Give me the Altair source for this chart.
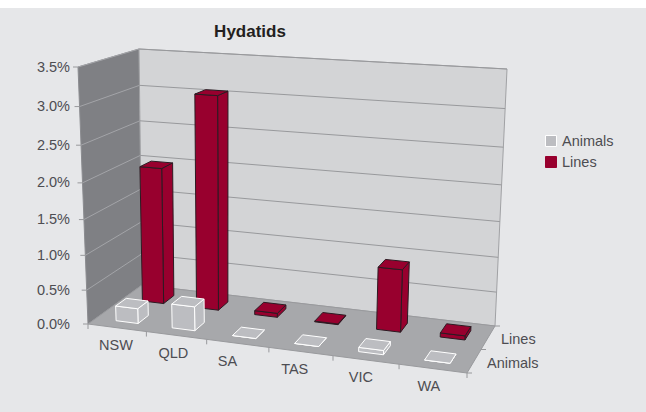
import altair as alt
import pandas as pd

W, H = 646, 412

# Chart values (percent of tested animals)
regions = ["NSW", "QLD", "SA", "TAS", "VIC", "WA"]
lines_pct = [2.0, 3.05, 0.06, 0.01, 0.9, 0.06]
animals_pct = [0.22, 0.35, 0.0, 0.0, 0.06, 0.0]
depth_names = ["Animals", "Lines"]
y_ticks = [0.0, 0.5, 1.0, 1.5, 2.0, 2.5, 3.0, 3.5]

# Horizontal nudges along the front edge: category names, and bar rows in category units
region_nudge = [-1, -3, -10, -6, -5, -4]
bar_shift = [0.04, 0, 0, 0, 0, 0]

# Screen corners of the 3D box: (across, depth) at floor level and at the 3.5% level
FLOOR = {(0, 0): (88, 324), (1, 0): (467, 373), (0, 1): (142, 285), (1, 1): (495, 326)}
ROOF = {(0, 0): (78, 67), (1, 0): (478, 92), (0, 1): (139, 49), (1, 1): (507, 69)}
Y_MAX = 3.5
BAR_W, BAR_D = 0.38, 0.4
PERSPECTIVE = 0.1

CRIMSON = "#98002e"
ANIMAL = "#bcbdc1"
TEXT = "#4d4d52"
FONT = "Liberation Sans"


def foreshorten(s):
    """Spacing grows slightly toward the viewer and toward the top of the box."""
    return s * (1 + PERSPECTIVE * s) / (1 + PERSPECTIVE)


def project(u, v, h):
    """Map category position u (0-6), depth v (0-2) and a percentage h to screen units."""
    a, b, t = foreshorten(u / 6), v / 2, foreshorten(h / Y_MAX)
    out = []
    for k in (0, 1):
        floor = sum(FLOOR[(i, j)][k] * (a if i else 1 - a) * (b if j else 1 - b) for i in (0, 1) for j in (0, 1))
        roof = sum(ROOF[(i, j)][k] * (a if i else 1 - a) * (b if j else 1 - b) for i in (0, 1) for j in (0, 1))
        out.append(floor + (roof - floor) * t)
    return out


def polygon(rows, name, corners, **extra):
    for seq, (u, v, h) in enumerate(corners):
        x, y = project(u, v, h)
        rows.append({"poly": name, "seq": seq, "x": x, "y": y, **extra})


# Walls and floor
wall_rows = []
polygon(wall_rows, "left", [(0, 0, 0), (0, 2, 0), (0, 2, Y_MAX), (0, 0, Y_MAX)], fill="#7f8084", edge="#8b8c90")
polygon(wall_rows, "back", [(0, 2, 0), (6, 2, 0), (6, 2, Y_MAX), (0, 2, Y_MAX)], fill="#d3d4d6", edge="#a0a1a4")
polygon(wall_rows, "floor", [(0, 0, 0), (6, 0, 0), (6, 2, 0), (0, 2, 0)], fill="#a7a8ab", edge="#999a9d")

# Gridlines: pale across the dark left wall, darker across the back wall
grid_rows = []
for tick in y_ticks[1:]:
    for wall, colour, ends in [("left", "#a3a4a8", [(0, 0), (0, 2)]), ("back", "#98999c", [(0, 2), (6, 2)])]:
        for seq, (u, v) in enumerate(ends):
            x, y = project(u, v, tick)
            grid_rows.append({"line": f"{wall}-{tick}", "seq": seq, "x": x, "y": y, "colour": colour})

# Bars: back row first so the front row paints over it
bar_rows = []
for series, values, v_mid, edge, colour in [
    ("Lines", lines_pct, 1.5, "#2c1a22", CRIMSON),
    ("Animals", animals_pct, 0.5, "#ffffff", ANIMAL),
]:
    for i, val in enumerate(values):
        mid = i + 0.5 + bar_shift[i]
        u0, u1 = mid - BAR_W / 2, mid + BAR_W / 2
        v0, v1 = v_mid - BAR_D / 2, v_mid + BAR_D / 2
        tag = f"{series}-{i}"
        polygon(bar_rows, tag + "-side", [(u1, v0, 0), (u1, v1, 0), (u1, v1, val), (u1, v0, val)], colour=colour, edge=edge)
        polygon(bar_rows, tag + "-front", [(u0, v0, 0), (u1, v0, 0), (u1, v0, val), (u0, v0, val)], colour=colour, edge=edge)
        polygon(bar_rows, tag + "-top", [(u0, v0, val), (u1, v0, val), (u1, v1, val), (u0, v1, val)], colour=colour, edge=edge)

# Tick marks and their labels
TEXT_DROP = 1.5  # centres the glyphs on their anchor
tick_rows, label_rows = [], []
for tick in y_ticks:
    x, y = project(0, 0, tick)
    tick_rows.append({"x": x - 5, "y": y, "x2": x, "y2": y})
    label_rows.append({"x": 70, "y": y + 0.5, "text": f"{tick:.1f}%", "align": "right"})
for i in range(7):
    x, y = project(i, 0, 0)
    tick_rows.append({"x": x, "y": y, "x2": x, "y2": y + 5})
for i, name in enumerate(regions):
    x, y = project(i + 0.5, 0, 0)
    label_rows.append({"x": x + region_nudge[i], "y": y + 17 + TEXT_DROP, "text": name, "align": "center"})
for j in range(3):
    x, y = project(6, j, 0)
    tick_rows.append({"x": x, "y": y, "x2": x + 5, "y2": y})
for j, name in enumerate(depth_names):
    x, y = project(6, j + 0.5, 0)
    label_rows.append({"x": x + 13, "y": y + 1 + TEXT_DROP, "text": name, "align": "left"})

# Legend keys and names
legend_keys = pd.DataFrame({
    "x": [551, 551], "y": [141, 162], "colour": [ANIMAL, CRIMSON], "edge": ["#ffffff", CRIMSON],
})
for name, y in zip(depth_names, legend_keys["y"]):
    label_rows.append({"x": 562, "y": y + 0.5, "text": name, "align": "left"})

x_enc = alt.X("x:Q", scale=alt.Scale(domain=[0, W]), axis=None)
y_enc = alt.Y("y:Q", scale=alt.Scale(domain=[H, 0]), axis=None)

backdrop = alt.Chart(pd.DataFrame({"x": [0], "x2": [W], "y": [8], "y2": [H]})).mark_rect(color="#e6e7e9").encode(
    x=x_enc, x2="x2:Q", y=y_enc, y2="y2:Q"
)
walls = alt.Chart(pd.DataFrame(wall_rows)).mark_line(interpolate="linear-closed", strokeWidth=1).encode(
    x=x_enc, y=y_enc, order="seq:Q", detail="poly:N",
    fill=alt.Fill("fill:N", scale=None), stroke=alt.Stroke("edge:N", scale=None),
)
grid = alt.Chart(pd.DataFrame(grid_rows)).mark_line(strokeWidth=1).encode(
    x=x_enc, y=y_enc, order="seq:Q", detail="line:N", stroke=alt.Stroke("colour:N", scale=None)
)
bars = alt.Chart(pd.DataFrame(bar_rows)).mark_line(interpolate="linear-closed", strokeWidth=1).encode(
    x=x_enc, y=y_enc, order="seq:Q", detail="poly:N",
    fill=alt.Fill("colour:N", scale=None), stroke=alt.Stroke("edge:N", scale=None),
)
ticks = alt.Chart(pd.DataFrame(tick_rows)).mark_rule(color="#98999c", strokeWidth=1).encode(
    x=x_enc, x2="x2:Q", y=y_enc, y2="y2:Q"
)
keys = alt.Chart(legend_keys).mark_square(size=121, opacity=1, strokeWidth=1).encode(
    x=x_enc, y=y_enc, fill=alt.Fill("colour:N", scale=None), stroke=alt.Stroke("edge:N", scale=None),
)

# mark_text takes a single align per layer, so labels are split by alignment
label_df = pd.DataFrame(label_rows)
label_layers = [
    alt.Chart(label_df[label_df["align"] == side]).mark_text(
        font=FONT, fontSize=14.5, color=TEXT, baseline="middle", align=side
    ).encode(x=x_enc, y=y_enc, text="text:N")
    for side in ("right", "center", "left")
]
title = alt.Chart(pd.DataFrame({"x": [250], "y": [32], "text": ["Hydatids"]})).mark_text(
    font=FONT, fontSize=17, fontWeight="bold", color="#231f20", baseline="middle"
).encode(x=x_enc, y=y_enc, text="text:N")

chart = alt.layer(backdrop, walls, grid, bars, ticks, keys, *label_layers, title).properties(
    width=W, height=H, padding=0, autosize=alt.AutoSizeParams(type="none"), background="#ffffff"
).configure_view(stroke=None)

chart.save("out.html", embed_options={"renderer": "svg", "actions": False})
